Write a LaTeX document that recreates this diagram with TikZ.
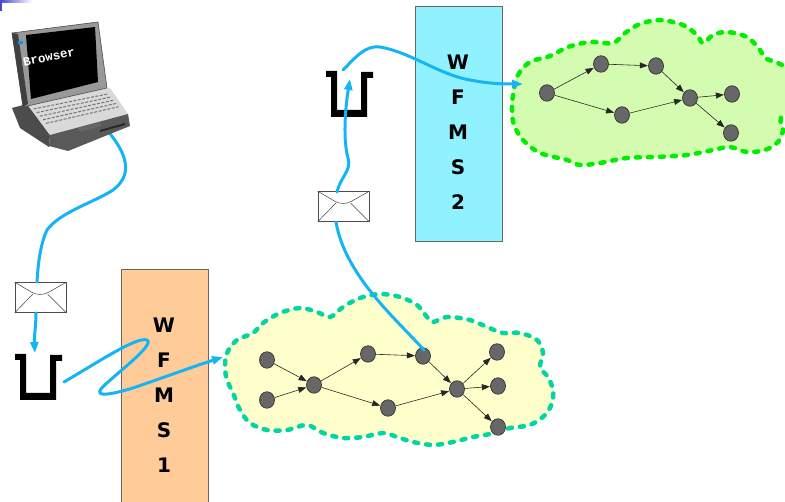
\documentclass[tikz,border=0pt]{standalone}
\usepackage{fontspec}
\setmainfont{DejaVu Sans}
\newfontfamily\screenfont{Liberation Mono}
\usetikzlibrary{arrows.meta,shapes.geometric,calc}

\definecolor{flowblue}{HTML}{14B4F5}
\definecolor{cloudAfill}{HTML}{FFFFCC}
\definecolor{cloudAline}{HTML}{00D6A0}
\definecolor{cloudBfill}{HTML}{D4FCB0}
\definecolor{cloudBline}{HTML}{00EE00}
\definecolor{wfmsA}{HTML}{FFCC99}
\definecolor{wfmsB}{HTML}{90F2FF}
\definecolor{taskgray}{HTML}{676767}
\definecolor{cornerblue}{HTML}{4646D8}

\tikzset{
  cloudline/.style={line width=4.5pt, dash pattern=on 4pt off 8pt, line cap=round},
  wfmsbox/.style={draw=black!60, line width=0.9pt},
  wfmstext/.style={font=\bfseries\fontsize{20}{35}\selectfont, align=center, inner sep=0pt},
  task/.style={ellipse, minimum width=15pt, minimum height=16.5pt, inner sep=0pt,
               fill=taskgray, draw=black!80, line width=0.7pt},
  dep/.style={draw=black!85, line width=0.6pt, -{Triangle[length=8pt,width=6pt]}, shorten >=0.3pt},
  flow/.style={draw=flowblue, line width=3pt, line cap=round},
  flowarrow/.style={flow, -{Triangle[length=11pt,width=8pt]}},
  envelope/.style={rectangle, draw=black!70, fill=white, line width=0.6pt,
                   minimum width=51pt, minimum height=30pt, inner sep=0pt},
  envline/.style={draw=black!75, line width=0.5pt},
  pics/tray/.style={code={
    \fill[black] (0,0) -- (11,0) -- (11,39) -- (35,39) -- (35,1) -- (47,1) -- (47,7)
      -- (41,7) -- (41,46) -- (5,46) -- (5,6) -- (0,6) -- cycle;
  }},
}

\begin{document}
\begin{tikzpicture}[x=1pt,y=-1pt]
\clip (0,0) rectangle (785,502);
\fill[white] (0,0) rectangle (785,502);

% corner mark
\shade[left color=cornerblue, right color=white] (0,0) rectangle (32,2.5);
\fill[cornerblue] (0,0) rectangle (1.5,11);

% ---- clouds ----
\path[fill=cloudAfill]
  plot[smooth cycle, tension=0.55] coordinates {
    (225,367) (227,353) (237,340) (253,333) (263,323) (280,313) (300,308) (317,312)
    (330,317) (343,307) (360,298) (380,294) (400,297) (417,305) (427,317) (433,322)
    (447,317) (470,320) (487,327) (503,333) (520,333) (537,340) (543,353) (540,367)
    (548,377) (553,390) (552,403) (545,415) (530,425) (510,428) (490,434) (473,437)
    (453,442) (433,445) (413,442) (397,437) (383,433) (363,437) (343,438) (323,433)
    (307,425) (287,430) (267,430) (250,423) (240,410) (233,393) (227,380)};
\draw[cloudline, draw=cloudAline]
  plot[smooth cycle, tension=0.55] coordinates {
    (225,367) (227,353) (237,340) (253,333) (263,323) (280,313) (300,308) (317,312)
    (330,317) (343,307) (360,298) (380,294) (400,297) (417,305) (427,317) (433,322)
    (447,317) (470,320) (487,327) (503,333) (520,333) (537,340) (543,353) (540,367)
    (548,377) (553,390) (552,403) (545,415) (530,425) (510,428) (490,434) (473,437)
    (453,442) (433,445) (413,442) (397,437) (383,433) (363,437) (343,438) (323,433)
    (307,425) (287,430) (267,430) (250,423) (240,410) (233,393) (227,380)};

\path[fill=cloudBfill]
  plot[smooth cycle, tension=0.55] coordinates {
    (513,95) (518,75) (530,62) (550,56) (568,47) (590,42) (613,43) (625,33) (640,24)
    (660,20) (683,25) (697,35) (703,43) (713,35) (727,32) (747,37) (760,50) (765,58)
    (780,64) (796,75) (796,105) (781,118) (783,130) (778,142) (765,150) (747,152)
    (730,147) (713,150) (687,155) (657,157) (627,158) (600,163) (580,165) (567,160)
    (540,153) (523,140) (514,125) (512,110)};
\draw[cloudline, draw=cloudBline]
  plot[smooth cycle, tension=0.55] coordinates {
    (513,95) (518,75) (530,62) (550,56) (568,47) (590,42) (613,43) (625,33) (640,24)
    (660,20) (683,25) (697,35) (703,43) (713,35) (727,32) (747,37) (760,50) (765,58)
    (780,64) (796,75) (796,105) (781,118) (783,130) (778,142) (765,150) (747,152)
    (730,147) (713,150) (687,155) (657,157) (627,158) (600,163) (580,165) (567,160)
    (540,153) (523,140) (514,125) (512,110)};

% ---- workflow engines ----
\draw[wfmsbox, fill=wfmsA] (121,269) rectangle (208,512);
\node[wfmstext] (wfms1) at (164,395) {W\\F\\M\\S\\1};
\draw[wfmsbox, fill=wfmsB] (415,6) rectangle (502,241);
\node[wfmstext] (wfms2) at (458,132) {W\\F\\M\\S\\2};

% ---- workflow in the lower cloud ----
\node[task] (a1) at (267,360) {};
\node[task] (a2) at (267,400) {};
\node[task] (b)  at (314,385) {};
\node[task] (c)  at (368,354) {};
\node[task] (d)  at (423,356) {};
\node[task] (e)  at (388,408) {};
\node[task] (f)  at (457,389) {};
\node[task] (g1) at (497,352) {};
\node[task] (g2) at (498,386) {};
\node[task] (g3) at (498,427) {};
\draw[dep] (a1) -- (b);
\draw[dep] (a2) -- (b);
\draw[dep] (b) -- (c);
\draw[dep] (b) -- (e);
\draw[dep] (c) -- (d);
\draw[dep] (d) -- (f);
\draw[dep] (e) -- (f);
\draw[dep] (f) -- (g1);
\draw[dep] (f) -- (g2);
\draw[dep] (f) -- (g3);

% ---- workflow in the upper cloud ----
\node[task] (p)  at (547,93) {};
\node[task] (q)  at (601,64) {};
\node[task] (r)  at (656,66) {};
\node[task] (s)  at (622,115) {};
\node[task] (t)  at (690,98) {};
\node[task] (u1) at (732,94) {};
\node[task] (u2) at (731,133) {};
\draw[dep] (p) -- (q);
\draw[dep] (p) -- (s);
\draw[dep] (q) -- (r);
\draw[dep] (r) -- (t);
\draw[dep] (s) -- (t);
\draw[dep] (t) -- (u1);
\draw[dep] (t) -- (u2);

% ---- envelopes ----
\node[envelope] (env1) at (40.5,297.5) {};
\node[envelope] (env2) at (343.5,206.5) {};
\foreach \e in {env1,env2}{
  \draw[envline] (\e.north west) -- ($(\e.north west)+(17,10)$)
     .. controls ($(\e.north west)+(22,13)$) and ($(\e.north west)+(29,13)$) .. ($(\e.north west)+(34,10)$)
     -- (\e.north east);
  \draw[envline] (\e.south west) -- ($(\e.north west)+(18,12)$);
  \draw[envline] (\e.south east) -- ($(\e.north west)+(33,12)$);
}

% ---- queues ----
\pic at (15,354) {tray};
\pic at (326,71) {tray};
\coordinate (tray1in) at (35,353);
\coordinate (tray1out) at (64,382);
\coordinate (tray2in) at (350,79);
\coordinate (tray2out) at (343,70);
\coordinate (cloud1in) at (223,357);
\coordinate (cloud2in) at (523,84);
\coordinate (lapout) at (107,130);
\coordinate (env1in) at (37,282);
\coordinate (env1out) at (36,313);
\coordinate (env2in) at (336,222);
\coordinate (env2out) at (337,192);
\coordinate (dtop) at (424,350);

% ---- message flow ----
\draw[flow] (lapout) .. controls (122,148) and (137,172) .. (113,190)
  .. controls (95,202) and (60,212) .. (47,230)
  .. controls (40,245) and (38,265) .. (env1in);
\draw[flowarrow] (env1out) .. controls (36,325) and (34,338) .. (tray1in);
\draw[flowarrow] (tray1out) .. controls (95,364) and (137,336) .. (147,340)
  .. controls (156,345) and (110,378) .. (101,389)
  .. controls (95,397) and (110,395) .. (133,388)
  .. controls (165,377) and (195,366) .. (cloud1in);
\draw[flow] (dtop) .. controls (395,318) and (345,275) .. (env2in);
\draw[flowarrow] (env2out) .. controls (340,178) and (352,170) .. (348,158)
  .. controls (343,140) and (345,110) .. (tray2in);
\draw[flowarrow] (tray2out) .. controls (355,58) and (365,45) .. (380,47)
  .. controls (410,52) and (440,75) .. (470,80)
  .. controls (490,84) and (505,84) .. (cloud2in);

% ---- laptop ----
\fill[black!70] (12,108) -- (27,104) -- (50,135) -- (49,147) -- (20,128) -- cycle;
\fill[black!15] (27,104) -- (110,88) -- (128,114) -- (50,135) -- cycle;
\fill[black!65] (50,135) -- (128,114) -- (130,126) -- (68,151) -- (49,146) -- cycle;
\coordinate (kbl) at (32,107);
\coordinate (kbr) at (107,92);
\coordinate (kfr) at (121,110);
\coordinate (kfl) at (49,127);
\foreach \t in {0.1,0.28,0.46,0.64,0.82}{
  \draw[black!55, line width=1pt, dash pattern=on 3pt off 1.5pt]
    ($(kbl)!\t!(kfl)$) -- ($(kbr)!\t!(kfr)$);
}
\fill[black!60] (78,128) -- (100,122) -- (102,126) -- (80,132) -- cycle;
\fill[black!85] (100,130) -- (125,123) -- (125,125) -- (100,132) -- cycle;
\fill[black!40] (12,33) -- (98,22) -- (107,88) -- (23,107) -- cycle;
\draw[black!70, line width=0.6pt] (12,33) -- (98,22) -- (107,88) -- (23,107) -- cycle;
\fill[black!75] (12,33) -- (18,34) -- (28,104) -- (23,107) -- cycle;
\fill[black] (26,35) -- (95,27) -- (98,82) -- (31,99) -- cycle;
\fill[flowblue!80!blue] (18,41) rectangle (23,44);
\node[text=white, font=\screenfont\bfseries\fontsize{12.5}{12.5}\selectfont, rotate=12, inner sep=0pt]
  (browser) at (49,57) {Browser};
\end{tikzpicture}
\end{document}
